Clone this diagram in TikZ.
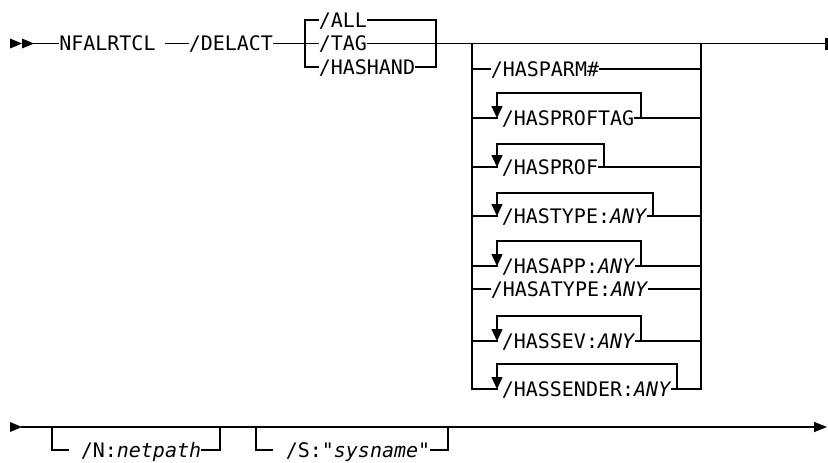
\documentclass[tikz,border=0pt]{standalone}
\usepackage{fontspec}
\newfontfamily\dmono{DejaVu Sans Mono}
\usetikzlibrary{arrows.meta}
\begin{document}
\begin{tikzpicture}[x=1pt,y=-1pt,line width=1.5pt,line cap=rect,
  lbl/.style={inner sep=0pt,anchor=west,text height=14.6pt,text depth=0pt,
    font=\dmono\fontsize{20}{22}\selectfont},
  looptip/.style={-{Triangle[length=12pt,width=11pt]}},
  endtip/.style={-{Triangle[length=13pt,width=10pt]}}]
\useasboundingbox (0,0) rectangle (828,463);
% ---------- first line ----------
\coordinate (s0) at (10,43.5);
\coordinate (s1) at (22,43.5);
\coordinate (s2) at (34,43.5);
\fill (10,38.5) -- (s1) -- (10,48.5) -- cycle;
\fill (22,38.5) -- (s2) -- (22,48.5) -- cycle;
\node[lbl] (nf) at (58.5,43.5) {NFALRTCL};
\coordinate (d0) at (166,43.5);
\node[lbl] (del) at (188,43.5) {/DELACT};
\draw (s2) -- (nf.west);
\draw (d0) -- (del.west);
% ALL/TAG/HASHAND group
\coordinate (gL) at (305,43.5);
\coordinate (gR) at (436,43.5);
\node[lbl] (all) at (318,20.2) {/ALL};
\node[lbl] (tag) at (318,43.5) {/TAG};
\node[lbl] (hh) at (318,66.8) {/HASHAND};
\draw (del.east) -- (gL) -- (tag.west);
\draw (tag.east) -- (gR);
\draw (all.west) -| (gL) |- (hh.west);
\draw (all.east) -| (gR) |- (hh.east);
% main line to end
\coordinate (hL) at (472,43.5);
\coordinate (hR) at (701,43.5);
\coordinate (e1) at (826,43.5);
\draw (gR) -- (e1);
\draw[line width=2.6pt,line cap=butt] (826.5,38) -- (826.5,49.5);
% HAS... group
\coordinate (hLb) at (472,389);
\coordinate (hRb) at (701,389);
\draw (hL) -- (hLb);
\draw (hR) -- (hRb);
% plain rows
\node[lbl] (parm) at (490,69) {/HASPARM\#};
\draw (parm.west -| hL) -- (parm.west);
\draw (parm.east) -- (parm.east -| hR);
\node[lbl] (atype) at (490,289) {/HASATYPE:\textit{ANY}};
\draw (atype.west -| hL) -- (atype.west);
\draw (atype.east) -- (atype.east -| hR);
% repeat rows
\foreach \nm/\yy/\txt/\kx/\ty in {
  ptag/118/{/HASPROFTAG}/641/93,
  prof/167/{/HASPROF}/604/144,
  typ/216/{/HASTYPE:\textit{ANY}}/653/193,
  app/266/{/HASAPP:\textit{ANY}}/641/241,
  sev/341/{/HASSEV:\textit{ANY}}/641/316,
  snd/389/{/HASSENDER:\textit{ANY}}/677/364}{
  \node[lbl] (\nm) at (501,\yy) {\txt};
  \coordinate (\nm a) at (497,\yy);
  \coordinate (\nm k) at (\kx,\yy);
  \coordinate (\nm t) at (\kx,\ty);
  \draw (\nm a -| hL) -- (\nm a);
  \draw (\nm.east) -- (\nm k) -- (\nm k -| hR);
  \draw[looptip] (\nm k) -- (\nm t) -| (\nm a);
}
% ---------- second line ----------
\coordinate (b0) at (10,427);
\coordinate (b1) at (22,427);
\coordinate (b2) at (827,427);
\fill (10,422) -- (b1) -- (10,432) -- cycle;
\draw[endtip] (b1) -- (b2);
\coordinate (n0) at (52,427);
\coordinate (n1) at (68,450);
\coordinate (n2) at (220,427);
\node[lbl] (np) at (80,450) {/N:\textit{netpath}};
\draw (n0) |- (n1);
\draw (np.east) -| (n2);
\coordinate (m0) at (256,427);
\coordinate (m1) at (272,450);
\coordinate (m2) at (448,427);
\node[lbl] (sn) at (285,450) {/S:"\textit{sysname}"};
\draw (m0) |- (m1);
\draw (sn.east) -| (m2);
\end{tikzpicture}
\end{document}
